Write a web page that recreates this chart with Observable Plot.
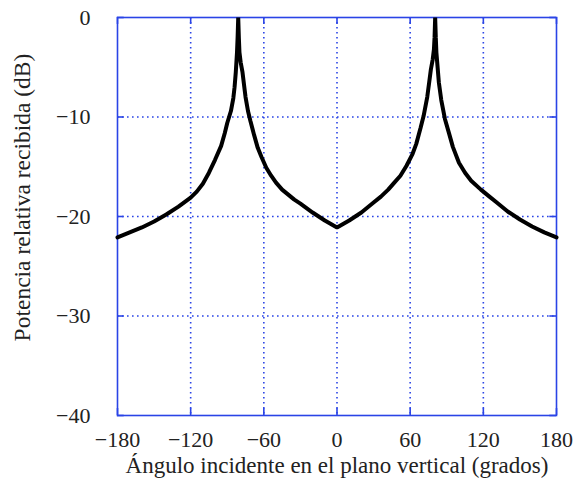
<!DOCTYPE html>
<html>
<head>
<meta charset="utf-8">
<script src="https://cdn.jsdelivr.net/npm/d3@7"></script>
<script src="https://cdn.jsdelivr.net/npm/@observablehq/plot@0.6"></script>
<style>
  html, body { margin: 0; padding: 0; background: #fff; }
  #chart svg { display: block; }
</style>
</head>
<body>
<div id="chart"></div>
<script>
// Tick values
const xTicks = [-180, -120, -60, 0, 60, 120, 180];
const yTicks = [-40, -30, -20, -10, 0];
const xGrid = [-120, -60, 0, 60, 120];
const yGrid = [-30, -20, -10];

// Curve: angle (degrees) and relative received power (dB)
const angles = [
  -180, -170, -160, -150, -140, -130, -120, -115, -110, -105, -100, -95, -92, -90, -87, -85, -84, -83, -82, -81.5, -81,
  -80.5, -80, -79, -77.5, -76, -75, -73, -71, -68, -65, -62, -58, -54, -50, -45, -40, -35, -30, -20, -10, 0,
  10, 20, 30, 36, 42, 47, 52, 57, 62, 65, 68.5, 71, 74, 75.5, 77, 78.5, 79.5, 80, 80.5,
  81, 81.5, 82.5, 83.5, 85.5, 88.5, 92, 95, 100, 105, 110, 118, 125, 130, 140, 150, 160, 170, 180
];
const power = [
  -22.1, -21.6, -21.1, -20.5, -19.8, -19.0, -18.1, -17.5, -16.7, -15.6, -14.3, -12.9, -11.6, -10.6, -9.4, -8.1, -7.0, -5.5, -3.5, -2.0, 0,
  -2.0, -3.5, -4.5, -5.5, -7.0, -8.0, -9.4, -10.4, -11.8, -13.1, -14.0, -15.1, -15.9, -16.6, -17.3, -17.8, -18.3, -18.7, -19.6, -20.4, -21.1,
  -20.4, -19.6, -18.6, -18.0, -17.3, -16.6, -15.9, -14.9, -13.7, -12.7, -11.1, -9.9, -8.0, -6.6, -5.2, -4.2, -3.2, -2.0, 0,
  -2.0, -3.5, -5.0, -6.5, -8.3, -10.2, -11.7, -13.0, -14.6, -15.6, -16.4, -17.3, -18.0, -18.5, -19.5, -20.3, -21.0, -21.6, -22.1
];

const xLabel = "Ángulo incidente en el plano vertical (grados)";
const yLabel = "Potencia relativa recibida (dB)";

const data = angles.map((a, i) => ({angle: a, power: power[i]}));
const blue = "#2a44e6";
const ink = "#222";

const chart = Plot.plot({
  width: 579,
  height: 488,
  marginLeft: 117,
  marginRight: 23,
  marginTop: 17,
  marginBottom: 73,
  style: {fontFamily: "'Liberation Serif', 'Times New Roman', serif", fontSize: "22px", color: ink, background: "#fff"},
  x: {domain: [-180, 180]},
  y: {domain: [-40, 0]},
  marks: [
    Plot.ruleX(xGrid, {stroke: blue, strokeWidth: 1.6, strokeDasharray: "1.6,3.4"}),
    Plot.ruleY(yGrid, {stroke: blue, strokeWidth: 1.6, strokeDasharray: "1.6,3.4"}),
    Plot.ruleX(xTicks, {y1: -40, y2: -39.3, stroke: blue, strokeWidth: 1.6}),
    Plot.ruleX(xTicks, {y1: 0, y2: -0.7, stroke: blue, strokeWidth: 1.6}),
    Plot.ruleY(yTicks, {x1: -180, x2: -174.5, stroke: blue, strokeWidth: 1.6}),
    Plot.ruleY(yTicks, {x1: 180, x2: 174.5, stroke: blue, strokeWidth: 1.6}),
    Plot.frame({stroke: blue, strokeWidth: 1.6}),
    Plot.axisX({ticks: xTicks, tickSize: 0, tickPadding: 16, label: null, fill: ink, fontSize: 22}),
    Plot.axisY({ticks: yTicks, tickSize: 0, tickPadding: 27, label: null, fill: ink, fontSize: 22}),
    Plot.line(data, {x: "angle", y: "power", stroke: "#000", strokeWidth: 4, strokeLinejoin: "miter", curve: "linear"}),
    Plot.text([xLabel], {text: d => d, frameAnchor: "bottom", lineAnchor: "middle", textAnchor: "middle", dy: 50, fill: ink, fontSize: 23}),
    Plot.text([yLabel], {text: d => d, frameAnchor: "left", lineAnchor: "middle", textAnchor: "middle", rotate: -90, dx: -95, dy: -19, fill: ink, fontSize: 23.5})
  ]
});
document.getElementById("chart").append(chart);
</script>
</body>
</html>
